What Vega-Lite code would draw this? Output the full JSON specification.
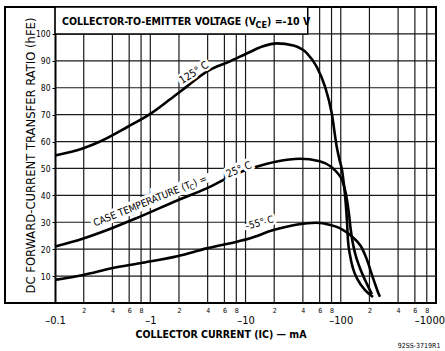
{
  "$schema": "https://vega.github.io/schema/vega-lite/v6.json",
  "width": 431,
  "height": 296,
  "autosize": {"type": "none"},
  "padding": {"left": 5, "top": 7, "right": 9, "bottom": 48},
  "background": "white",
  "config": {
    "view": {"stroke": "black", "strokeWidth": 2},
    "font": "DejaVu Sans Condensed"
  },
  "title": {"text": "92SS-3719R1", "orient": "bottom", "anchor": "end", "fontSize": 7, "fontWeight": "normal", "font": "DejaVu Sans Condensed", "color": "black", "offset": 2, "dx": -4},
  "resolve": {"axis": {"x": "independent", "y": "independent"}},
  "datasets": {
    "vgrid": [{"I": 0.2}, {"I": 0.4}, {"I": 0.6}, {"I": 0.8}, {"I": 1}, {"I": 2}, {"I": 4}, {"I": 6}, {"I": 8}, {"I": 10}, {"I": 20}, {"I": 40}, {"I": 60}, {"I": 80}, {"I": 100}, {"I": 200}, {"I": 400}, {"I": 600}, {"I": 800}],
    "hgrid": [{"h": 10}, {"h": 20}, {"h": 30}, {"h": 40}, {"h": 50}, {"h": 60}, {"h": 70}, {"h": 80}, {"h": 90}, {"h": 100}],
    "curves": [
      {"T": "125", "I": 0.1, "h": 54.8}, {"T": "125", "I": 0.198, "h": 57.5}, {"T": "125", "I": 0.297, "h": 60.0}, {"T": "125", "I": 0.58, "h": 65.5}, {"T": "125", "I": 1.0, "h": 70.3}, {"T": "125", "I": 1.6, "h": 75.6}, {"T": "125", "I": 2.41, "h": 80.4}, {"T": "125", "I": 3.91, "h": 86.0}, {"T": "125", "I": 6.87, "h": 89.8}, {"T": "125", "I": 11, "h": 93.2}, {"T": "125", "I": 15, "h": 95.3}, {"T": "125", "I": 21.3, "h": 96.5}, {"T": "125", "I": 31.8, "h": 95.7}, {"T": "125", "I": 44.2, "h": 92.8}, {"T": "125", "I": 55.9, "h": 87.8}, {"T": "125", "I": 68.3, "h": 80.4}, {"T": "125", "I": 80.4, "h": 70.5}, {"T": "125", "I": 90.7, "h": 58.1}, {"T": "125", "I": 97, "h": 53.2}, {"T": "125", "I": 103, "h": 49.4}, {"T": "125", "I": 108, "h": 43.9}, {"T": "125", "I": 112, "h": 38.3}, {"T": "125", "I": 116, "h": 30.9}, {"T": "125", "I": 119, "h": 23.4}, {"T": "125", "I": 125, "h": 17.8}, {"T": "125", "I": 134, "h": 13.0}, {"T": "125", "I": 151, "h": 8.6}, {"T": "125", "I": 180, "h": 4.8}, {"T": "125", "I": 218, "h": 2.2},
      {"T": "25", "I": 0.1, "h": 21.0}, {"T": "25", "I": 0.198, "h": 24.0}, {"T": "25", "I": 0.394, "h": 27.8}, {"T": "25", "I": 0.78, "h": 32.1}, {"T": "25", "I": 1.97, "h": 38.3}, {"T": "25", "I": 3.91, "h": 42.6}, {"T": "25", "I": 8.5, "h": 48.4}, {"T": "25", "I": 13, "h": 50.6}, {"T": "25", "I": 21.3, "h": 52.6}, {"T": "25", "I": 37, "h": 53.6}, {"T": "25", "I": 60, "h": 52.7}, {"T": "25", "I": 80, "h": 50.5}, {"T": "25", "I": 95, "h": 47.8}, {"T": "25", "I": 103, "h": 45.8}, {"T": "25", "I": 110, "h": 42.5}, {"T": "25", "I": 116, "h": 38.5}, {"T": "25", "I": 122, "h": 33.0}, {"T": "25", "I": 127, "h": 27.5}, {"T": "25", "I": 132, "h": 23.4}, {"T": "25", "I": 141, "h": 18.6}, {"T": "25", "I": 159, "h": 13.0}, {"T": "25", "I": 188, "h": 7.1}, {"T": "25", "I": 212, "h": 3.3},
      {"T": "-55", "I": 0.1, "h": 8.6}, {"T": "-55", "I": 0.198, "h": 10.4}, {"T": "-55", "I": 0.394, "h": 12.9}, {"T": "-55", "I": 0.78, "h": 14.8}, {"T": "-55", "I": 1.97, "h": 17.5}, {"T": "-55", "I": 3.91, "h": 20.3}, {"T": "-55", "I": 8.08, "h": 22.8}, {"T": "-55", "I": 11, "h": 24.0}, {"T": "-55", "I": 19.6, "h": 27.1}, {"T": "-55", "I": 35, "h": 29.2}, {"T": "-55", "I": 55, "h": 29.8}, {"T": "-55", "I": 78, "h": 29.0}, {"T": "-55", "I": 95, "h": 28.0}, {"T": "-55", "I": 106, "h": 27.1}, {"T": "-55", "I": 120, "h": 25.8}, {"T": "-55", "I": 135, "h": 24.3}, {"T": "-55", "I": 150, "h": 22.7}, {"T": "-55", "I": 164, "h": 20.9}, {"T": "-55", "I": 180, "h": 17.8}, {"T": "-55", "I": 194, "h": 14.8}, {"T": "-55", "I": 210, "h": 11.0}, {"T": "-55", "I": 228, "h": 7.3}, {"T": "-55", "I": 245, "h": 4.2}, {"T": "-55", "I": 258, "h": 2.3}
    ],
    "labels": [
      {"id": "t125", "x": 2.88, "y": 85.5, "text": "125° C"},
      {"id": "t55", "x": 13.9, "y": 29.7, "text": "–55° C"},
      {"id": "t25h", "x": 0.263, "y": 28.4, "text": "CASE TEMPERATURE (TC) ="},
      {"id": "t25a", "x": 0.263, "y": 28.4, "text": "CASE TEMPERATURE (T"},
      {"id": "t25b", "x": 0.263, "y": 28.4, "text": "C"},
      {"id": "t25c", "x": 0.263, "y": 28.4, "text": ") ="},
      {"id": "t25d", "x": 6.55, "y": 46.5, "text": "25° C"},
      {"id": "va", "x": 0.1184, "y": 103.3, "text": "COLLECTOR-TO-EMITTER VOLTAGE (V"},
      {"id": "vb", "x": 0.1184, "y": 103.3, "text": "CE"},
      {"id": "vc", "x": 0.1184, "y": 103.3, "text": ") =-10 V"}
    ]
  },
  "layer": [
    {
      "data": {"name": "vgrid"},
      "mark": {"type": "rule", "stroke": "#1a1a1a", "strokeWidth": 1.2},
      "encoding": {"x": {"field": "I", "type": "quantitative", "scale": {"type": "log", "domain": [0.0298, 1000], "nice": false}, "axis": null}}
    },
    {
      "data": {"name": "hgrid"},
      "mark": {"type": "rule", "stroke": "#1a1a1a", "strokeWidth": 1.2},
      "encoding": {
        "y": {"field": "h", "type": "quantitative", "scale": {"domain": [0, 110], "nice": false, "zero": false}, "axis": null},
        "x": {"datum": 0.1, "type": "quantitative", "scale": {"type": "log", "domain": [0.0298, 1000], "nice": false}, "axis": null},
        "x2": {"datum": 1000}
      }
    },
    {
      "data": {"values": [{"part": "box"}]},
      "mark": {"type": "rect", "fill": "white", "stroke": "black", "strokeWidth": 1.5},
      "encoding": {
        "x": {"datum": 0.1, "type": "quantitative", "scale": {"type": "log", "domain": [0.0298, 1000], "nice": false}, "axis": null},
        "x2": {"datum": 45},
        "y": {"datum": 100, "type": "quantitative", "scale": {"domain": [0, 110], "nice": false, "zero": false}, "axis": null},
        "y2": {"datum": 110}
      }
    },
    {
      "data": {"name": "curves"},
      "mark": {"type": "line", "interpolate": "monotone", "stroke": "black", "strokeWidth": 2.6},
      "encoding": {
        "x": {
          "field": "I", "type": "quantitative",
          "scale": {"type": "log", "domain": [0.0298, 1000], "nice": false},
          "axis": {
            "values": [0.1, 0.2, 0.4, 0.6, 0.8, 1, 2, 4, 6, 8, 10, 20, 40, 60, 80, 100, 200, 400, 600, 800, 1000],
            "labelExpr": "indexof([0.1,1,10,100,1000], datum.value) >= 0 ? '–' + datum.value : format(datum.value / pow(10, floor(log(datum.value)/LN10 + 1e-9)), 'd')",
            "labelFontSize": {"condition": {"test": "indexof([0.1,1,10,100,1000], datum.value) >= 0", "value": 11}, "value": 7},
            "labelPadding": {"condition": {"test": "indexof([0.1,1,10,100,1000], datum.value) >= 0", "value": 11}, "value": 3},
            "labelAlign": {"condition": {"test": "datum.value == 1000", "value": "right"}, "value": "center"},
            "labelOffset": {"condition": {"test": "datum.value == 1000", "value": 8.5}, "value": 0},
            "labelBaseline": "top",
            "labelColor": "black",
            "labelFont": "DejaVu Sans Condensed",
            "labelFlush": false,
            "labelOverlap": false,
            "labelBound": false,
            "domain": false,
            "ticks": false,
            "grid": false,
            "title": "COLLECTOR CURRENT (IC) — mA",
            "titleFont": "DejaVu Sans Condensed",
            "titleFontSize": 10.5,
            "titleFontWeight": "bold",
            "titleColor": "black",
            "titlePadding": 4
          }
        },
        "y": {
          "field": "h", "type": "quantitative",
          "scale": {"domain": [0, 110], "nice": false, "zero": false},
          "axis": {
            "values": [10, 20, 30, 40, 50, 60, 70, 80, 90, 100],
            "offset": -50,
            "domain": true,
            "domainColor": "black",
            "domainWidth": 2,
            "ticks": true,
            "tickSize": 3,
            "tickColor": "black",
            "labelPadding": 2,
            "labelFontSize": 8.5,
            "labelFont": "DejaVu Sans Condensed",
            "labelColor": "black",
            "grid": false,
            "title": "DC FORWARD-CURRENT TRANSFER RATIO (hFE)",
            "titleFont": "DejaVu Sans Condensed",
            "titleFontSize": 12.9,
            "titleFontWeight": "normal",
            "titleColor": "black",
            "titlePadding": -2
          }
        },
        "detail": {"field": "T"}
      }
    },
    {
      "data": {"name": "labels"},
      "transform": [{"filter": "datum.id == 't125'"}],
      "mark": {"type": "text", "angle": -33, "align": "center", "baseline": "middle", "fontSize": 10.5, "fill": "white", "stroke": "white", "strokeWidth": 5},
      "encoding": {"x": {"field": "x", "type": "quantitative", "scale": {"type": "log", "domain": [0.0298, 1000], "nice": false}, "axis": null}, "y": {"field": "y", "type": "quantitative", "scale": {"domain": [0, 110], "nice": false, "zero": false}, "axis": null}, "text": {"field": "text"}}
    },
    {
      "data": {"name": "labels"},
      "transform": [{"filter": "datum.id == 't125'"}],
      "mark": {"type": "text", "angle": -33, "align": "center", "baseline": "middle", "fontSize": 10.5, "fill": "black"},
      "encoding": {"x": {"field": "x", "type": "quantitative", "scale": {"type": "log", "domain": [0.0298, 1000], "nice": false}, "axis": null}, "y": {"field": "y", "type": "quantitative", "scale": {"domain": [0, 110], "nice": false, "zero": false}, "axis": null}, "text": {"field": "text"}}
    },
    {
      "data": {"name": "labels"},
      "transform": [{"filter": "datum.id == 't55'"}],
      "mark": {"type": "text", "angle": -15, "align": "center", "baseline": "middle", "fontSize": 10, "fill": "white", "stroke": "white", "strokeWidth": 5},
      "encoding": {"x": {"field": "x", "type": "quantitative", "scale": {"type": "log", "domain": [0.0298, 1000], "nice": false}, "axis": null}, "y": {"field": "y", "type": "quantitative", "scale": {"domain": [0, 110], "nice": false, "zero": false}, "axis": null}, "text": {"field": "text"}}
    },
    {
      "data": {"name": "labels"},
      "transform": [{"filter": "datum.id == 't55'"}],
      "mark": {"type": "text", "angle": -15, "align": "center", "baseline": "middle", "fontSize": 10, "fill": "black"},
      "encoding": {"x": {"field": "x", "type": "quantitative", "scale": {"type": "log", "domain": [0.0298, 1000], "nice": false}, "axis": null}, "y": {"field": "y", "type": "quantitative", "scale": {"domain": [0, 110], "nice": false, "zero": false}, "axis": null}, "text": {"field": "text"}}
    },
    {
      "data": {"name": "labels"},
      "transform": [{"filter": "datum.id == 't25h'"}],
      "mark": {"type": "text", "angle": -22, "align": "left", "baseline": "alphabetic", "fontSize": 10, "fill": "white", "stroke": "white", "strokeWidth": 6},
      "encoding": {"x": {"field": "x", "type": "quantitative", "scale": {"type": "log", "domain": [0.0298, 1000], "nice": false}, "axis": null}, "y": {"field": "y", "type": "quantitative", "scale": {"domain": [0, 110], "nice": false, "zero": false}, "axis": null}, "text": {"field": "text"}}
    },
    {
      "data": {"name": "labels"},
      "transform": [{"filter": "datum.id == 't25d'"}],
      "mark": {"type": "text", "angle": -23, "align": "left", "baseline": "alphabetic", "fontSize": 10.5, "fill": "white", "stroke": "white", "strokeWidth": 6},
      "encoding": {"x": {"field": "x", "type": "quantitative", "scale": {"type": "log", "domain": [0.0298, 1000], "nice": false}, "axis": null}, "y": {"field": "y", "type": "quantitative", "scale": {"domain": [0, 110], "nice": false, "zero": false}, "axis": null}, "text": {"field": "text"}}
    },
    {
      "data": {"name": "labels"},
      "transform": [{"filter": "datum.id == 't25a'"}],
      "mark": {"type": "text", "angle": -22, "align": "left", "baseline": "alphabetic", "fontSize": 10, "fill": "black"},
      "encoding": {"x": {"field": "x", "type": "quantitative", "scale": {"type": "log", "domain": [0.0298, 1000], "nice": false}, "axis": null}, "y": {"field": "y", "type": "quantitative", "scale": {"domain": [0, 110], "nice": false, "zero": false}, "axis": null}, "text": {"field": "text"}}
    },
    {
      "data": {"name": "labels"},
      "transform": [{"filter": "datum.id == 't25b'"}],
      "mark": {"type": "text", "angle": -22, "align": "left", "baseline": "alphabetic", "fontSize": 7.5, "fill": "black", "dx": 102.5, "dy": 2.5},
      "encoding": {"x": {"field": "x", "type": "quantitative", "scale": {"type": "log", "domain": [0.0298, 1000], "nice": false}, "axis": null}, "y": {"field": "y", "type": "quantitative", "scale": {"domain": [0, 110], "nice": false, "zero": false}, "axis": null}, "text": {"field": "text"}}
    },
    {
      "data": {"name": "labels"},
      "transform": [{"filter": "datum.id == 't25c'"}],
      "mark": {"type": "text", "angle": -22, "align": "left", "baseline": "alphabetic", "fontSize": 10, "fill": "black", "dx": 107.5},
      "encoding": {"x": {"field": "x", "type": "quantitative", "scale": {"type": "log", "domain": [0.0298, 1000], "nice": false}, "axis": null}, "y": {"field": "y", "type": "quantitative", "scale": {"domain": [0, 110], "nice": false, "zero": false}, "axis": null}, "text": {"field": "text"}}
    },
    {
      "data": {"name": "labels"},
      "transform": [{"filter": "datum.id == 't25d'"}],
      "mark": {"type": "text", "angle": -23, "align": "left", "baseline": "alphabetic", "fontSize": 10.5, "fill": "black"},
      "encoding": {"x": {"field": "x", "type": "quantitative", "scale": {"type": "log", "domain": [0.0298, 1000], "nice": false}, "axis": null}, "y": {"field": "y", "type": "quantitative", "scale": {"domain": [0, 110], "nice": false, "zero": false}, "axis": null}, "text": {"field": "text"}}
    },
    {
      "data": {"name": "labels"},
      "transform": [{"filter": "datum.id == 'va'"}],
      "mark": {"type": "text", "align": "left", "baseline": "alphabetic", "fontSize": 10.5, "fontWeight": "bold", "fill": "black"},
      "encoding": {"x": {"field": "x", "type": "quantitative", "scale": {"type": "log", "domain": [0.0298, 1000], "nice": false}, "axis": null}, "y": {"field": "y", "type": "quantitative", "scale": {"domain": [0, 110], "nice": false, "zero": false}, "axis": null}, "text": {"field": "text"}}
    },
    {
      "data": {"name": "labels"},
      "transform": [{"filter": "datum.id == 'vb'"}],
      "mark": {"type": "text", "align": "left", "baseline": "alphabetic", "fontSize": 9, "fontWeight": "bold", "fill": "black", "dx": 193.5, "dy": 3},
      "encoding": {"x": {"field": "x", "type": "quantitative", "scale": {"type": "log", "domain": [0.0298, 1000], "nice": false}, "axis": null}, "y": {"field": "y", "type": "quantitative", "scale": {"domain": [0, 110], "nice": false, "zero": false}, "axis": null}, "text": {"field": "text"}}
    },
    {
      "data": {"name": "labels"},
      "transform": [{"filter": "datum.id == 'vc'"}],
      "mark": {"type": "text", "align": "left", "baseline": "alphabetic", "fontSize": 10.5, "fontWeight": "bold", "fill": "black", "dx": 205},
      "encoding": {"x": {"field": "x", "type": "quantitative", "scale": {"type": "log", "domain": [0.0298, 1000], "nice": false}, "axis": null}, "y": {"field": "y", "type": "quantitative", "scale": {"domain": [0, 110], "nice": false, "zero": false}, "axis": null}, "text": {"field": "text"}}
    }
  ]
}
